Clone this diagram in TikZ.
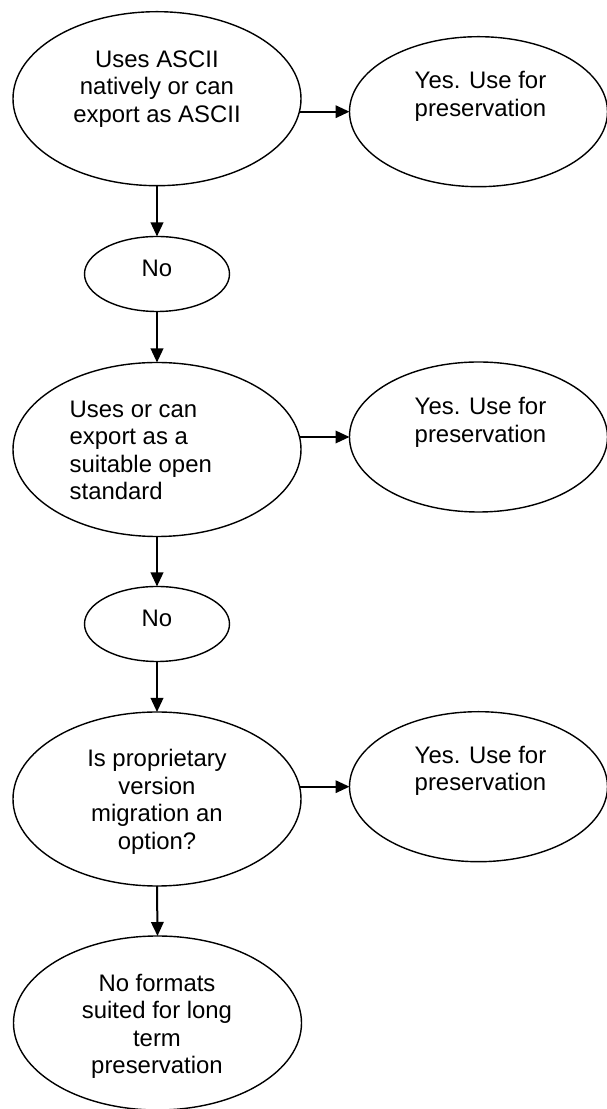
\documentclass[tikz,border=0pt]{standalone}
\usepackage{fontspec}
\setmainfont{Liberation Sans}
\usetikzlibrary{shapes.geometric,arrows.meta}
\tikzset{
  oval/.style={ellipse,draw=black,line width=1.4pt,inner sep=0pt,outer sep=0pt},
  bigoval/.style={oval,minimum width=288pt,minimum height=174pt},
  yesoval/.style={oval,minimum width=258pt,minimum height=150pt},
  nooval/.style={oval,minimum width=145pt,minimum height=75pt},
  lbl/.style={inner sep=0pt,outer sep=0pt,align=center,font=\fontsize{23.9}{27.5}\selectfont},
  arr/.style={line width=2pt,-{Triangle[length=14pt,width=12.5pt]}}
}
\begin{document}
\begin{tikzpicture}[x=1pt,y=1pt]
\useasboundingbox (0,0) rectangle (607,1109);
% ovals
\node[bigoval] (e1) at (157,1010.3) {};
\node[yesoval] (r1) at (478.5,997.3) {};
\node[nooval] (n1) at (157,835) {};
\node[bigoval] (e2) at (157,659.5) {};
\node[yesoval] (r2) at (478.5,672) {};
\node[nooval] (n2) at (157,485) {};
\node[bigoval] (e3) at (157,310) {};
\node[yesoval] (r3) at (478.5,322.3) {};
\node[bigoval] (e4) at (157.5,86) {};
% texts
\node[lbl] (t1) at (157,1019.5) {\strut Uses ASCII\\\strut natively or can\\\strut export as ASCII};
\node[lbl] (ty1) at (480.5,1011.8) {\strut Yes. Use for\\\strut preservation};
\node[lbl] (tn1) at (157,837.8) {\strut No};
\node[lbl,align=left,anchor=west] (t2) at (69.7,655.8) {\strut Uses or can\\\strut export as a\\\strut suitable open\\\strut standard};
\node[lbl] (ty2) at (480.5,686.2) {\strut Yes. Use for\\\strut preservation};
\node[lbl] (tn2) at (157,487.8) {\strut No};
\node[lbl] (t3) at (157,306.5) {\strut Is proprietary\\\strut version\\\strut migration an\\\strut option?};
\node[lbl] (ty3) at (480.5,337.5) {\strut Yes. Use for\\\strut preservation};
\node[lbl] (t4) at (157,82.1) {\strut No formats\\\strut suited for long\\\strut term\\\strut preservation};
% connectors
\draw[arr] (e1.south) -- (n1.north);
\draw[arr] (n1.south) -- (e2.north);
\draw[arr] (e2.south) -- (n2.north);
\draw[arr] (n2.south) -- (e3.north);
\draw[arr] (e3.south) -- (e4.north);
\draw[arr] ([xshift=-1.5pt]r1.west -| e1.east) -- (r1.west);
\draw[arr] ([xshift=-1pt]r2.west -| e2.east) -- (r2.west);
\draw[arr] ([xshift=-1pt]r3.west -| e3.east) -- (r3.west);
\end{tikzpicture}
\end{document}
